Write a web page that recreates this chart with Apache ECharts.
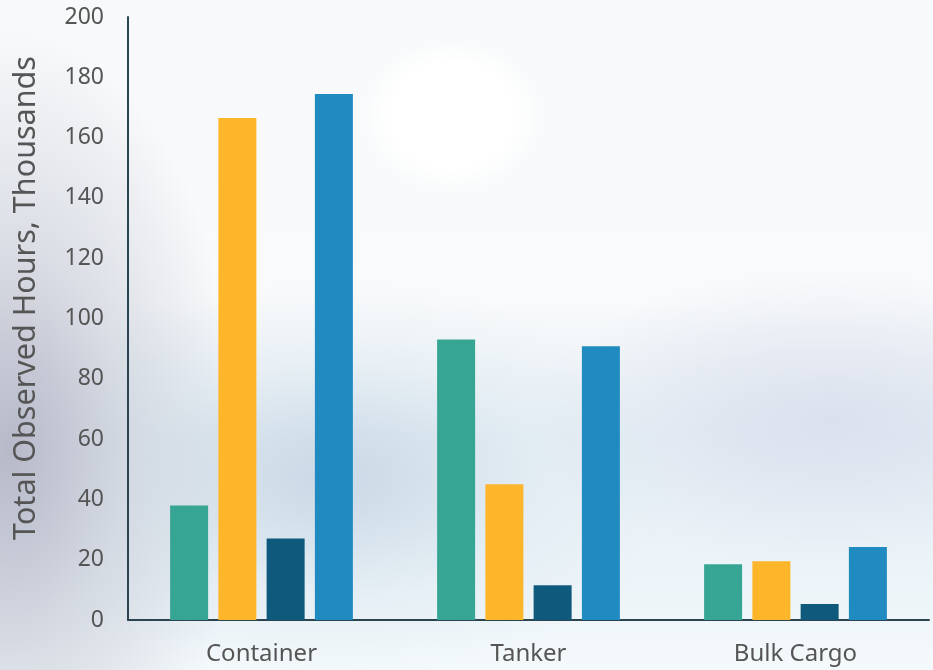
<!DOCTYPE html>
<html><head><meta charset="utf-8">
<script src="https://cdn.jsdelivr.net/npm/echarts@6/dist/echarts.min.js"></script>
<style>
html,body{margin:0;padding:0;}
#bg{position:absolute;left:0;top:0;width:933px;height:670px;
background:
 radial-gradient(ellipse 95px 80px at 452px 115px, rgba(255,255,255,1) 65%, rgba(255,255,255,0) 100%),
 radial-gradient(ellipse 230px 420px at 10px 450px, rgba(180,182,198,0.95) 0%, rgba(200,204,215,0.6) 50%, rgba(220,228,235,0) 100%),
 radial-gradient(ellipse 350px 200px at 330px 480px, rgba(180,200,218,0.6) 0%, rgba(200,218,230,0.2) 60%, rgba(255,255,255,0) 100%),
 radial-gradient(ellipse 300px 150px at 830px 420px, rgba(215,220,235,0.8) 0%, rgba(230,235,242,0) 100%),
 linear-gradient(to bottom, #f7f9fa 0%, #f8fafb 45%, #e8f0f6 65%, #eef5f9 90%, #f4f9fb 100%);
}
#chart{position:absolute;left:0;top:0;width:933px;height:670px;}
</style>
</head><body>
<div id="bg"></div>
<div id="chart"></div>
<script>
var categories = ['Container', 'Tanker', 'Bulk Cargo'];
var series1 = [38, 93, 18.5];
var series2 = [166.5, 45, 19.5];
var series3 = [27, 11.5, 5.3];
var series4 = [174.5, 90.8, 24.2];
var yTicks = [0, 20, 40, 60, 80, 100, 120, 140, 160, 180, 200];
var yTitle = 'Total Observed Hours, Thousands';
var colors = ['#36a593', '#fdb62a', '#0f5a7c', '#208bc1'];

var chart = echarts.init(document.getElementById('chart'), null, {renderer: 'canvas'});
var font = '"Noto Sans", sans-serif';
function mk(data, i) {
  return {type: 'bar', data: data, barWidth: 38, barGap: '27%',
    itemStyle: {color: colors[i]}, emphasis: {disabled: true}};
}
chart.setOption({
  backgroundColor: 'transparent',
  animation: false,
  grid: {left: 128, right: 4, top: 17, bottom: 50, containLabel: false},
  graphic: [{type: 'text', x: 26, y: 298, rotation: Math.PI / 2,
    style: {text: yTitle, fill: '#555', font: '30.5px ' + font, align: 'center', verticalAlign: 'middle'}}],
  xAxis: {type: 'category', data: categories,
    axisLine: {lineStyle: {color: '#2b4550', width: 2}},
    axisTick: {show: false},
    axisLabel: {color: '#555', fontSize: 24, fontFamily: font, margin: 22}},
  yAxis: {type: 'value', min: yTicks[0], max: yTicks[yTicks.length - 1], interval: 20,
    axisLine: {show: true, lineStyle: {color: '#2b4550', width: 2}},
    axisTick: {show: false}, splitLine: {show: false},
    axisLabel: {color: '#555', fontSize: 23, fontFamily: font, margin: 24}},
  series: [mk(series1, 0), mk(series2, 1), mk(series3, 2), mk(series4, 3)]
});
</script>
</body></html>
